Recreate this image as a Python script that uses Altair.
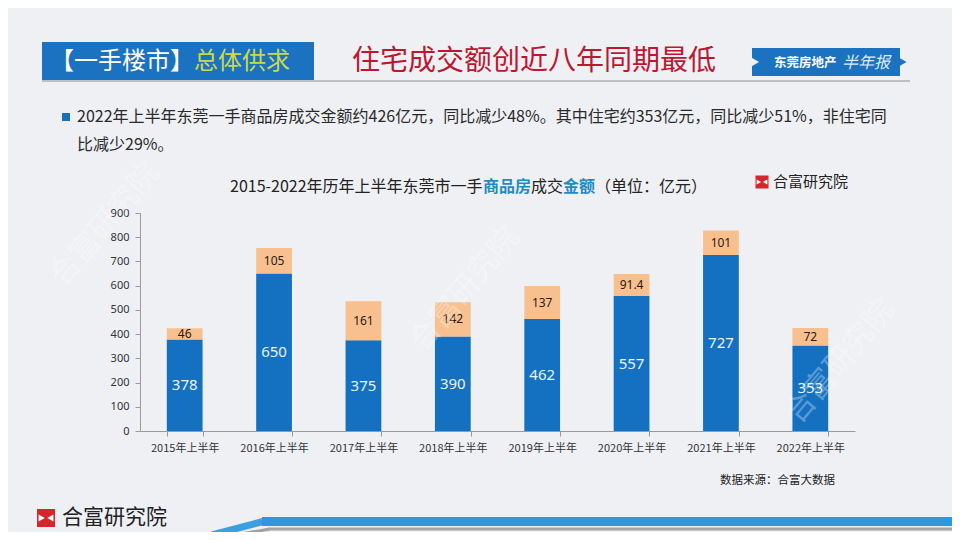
import altair as alt
import pandas as pd

# ---------------- data ----------------
periods = ["2015年上半年", "2016年上半年", "2017年上半年", "2018年上半年",
           "2019年上半年", "2020年上半年", "2021年上半年", "2022年上半年"]
residential = [378, 650, 375, 390, 462, 557, 727, 353]
non_residential = [46, 105, 161, 142, 137, 91.4, 101, 72]
y_ticks = [0, 100, 200, 300, 400, 500, 600, 700, 800, 900]

header_left = "【一手楼市】"
header_mid = "总体供求"
headline = "住宅成交额创近八年同期最低"
badge_a = "东莞房地产"
badge_b = "半年报"
bullet_1 = "2022年上半年东莞一手商品房成交金额约426亿元，同比减少48%。其中住宅约353亿元，同比减少51%，非住宅同"
bullet_2 = "比减少29%。"
title_parts = ["2015-2022年历年上半年东莞市一手", "商品房", "成交", "金额", "（单位：亿元）"]
brand = "合富研究院"
source = "数据来源：合富大数据"

# ---------------- layout helpers (page coords -> plot coords) ----------------
OX, OY = 140, 213          # plot origin on the page
PW, PH = 715, 218          # plot area size
def px(x):
    return x - OX
def py(y):
    return y - OY

FONT = "Noto Sans CJK SC"
BLUE = "#1470C0"
PEACH = "#F8C08E"
BG = "#EEF0F3"

rows = []
for p, r, n in zip(periods, residential, non_residential):
    rows.append({
        "period": p, "res": r, "non": n, "total": r + n,
        "res_mid": r / 2, "non_mid": r + n / 2,
        "res_lbl": f"{r:g}", "non_lbl": f"{n:g}",
    })
df = pd.DataFrame(rows)

one = alt.Data(values=[{"k": 1}])

x_axis = alt.Axis(labelAngle=0, labelFont=FONT, labelFontSize=11,
                  labelColor="#333333", domainColor="#9A9A9A",
                  tickColor="#9A9A9A", tickBand="extent", tickSize=5,
                  labelPadding=6, labelOverlap=False)
x_scale = alt.Scale(paddingInner=0.6, paddingOuter=0.3)
y_scale = alt.Scale(domain=[0, 900], nice=False)
y_axis = alt.Axis(values=y_ticks, grid=False, labelFont="Noto Sans",
                  labelFontSize=11, labelColor="#333333", domainColor="#9A9A9A",
                  tickColor="#9A9A9A", tickSize=5, labelPadding=6,
                  labelOverlap=False)


def X():
    return alt.X("period:N", sort=periods, title=None, scale=x_scale, axis=x_axis)


def Y(field):
    return alt.Y(field, scale=y_scale, axis=y_axis, title=None)


base = alt.Chart(df)
bar_res = base.mark_bar(color=BLUE).encode(x=X(), y=Y("res:Q"))
bar_non = base.mark_bar(color=PEACH).encode(x=X(), y=Y("res:Q"), y2="total:Q")
lbl_res = base.mark_text(color="#EAF6FF", font="Noto Sans", fontSize=15).encode(
    x=X(), y=Y("res_mid:Q"), text="res_lbl:N")
lbl_non = base.mark_text(color="#2B1A10", font="Noto Sans", fontSize=12).encode(
    x=X(), y=Y("non_mid:Q"), text="non_lbl:N")


def txt(s, x, y, size, color, align="left", weight="normal", font=FONT,
        angle=0, opacity=1.0, baseline="middle", style="normal"):
    return alt.Chart(one).mark_text(
        text=s, align=align, baseline=baseline, fontSize=size, color=color,
        fontWeight=weight, font=font, angle=angle, opacity=opacity,
        fontStyle=style,
    ).encode(x=alt.value(px(x)), y=alt.value(py(y)))


def rect(x1, y1, x2, y2, color, opacity=1.0):
    return alt.Chart(one).mark_rect(color=color, opacity=opacity).encode(
        x=alt.value(px(x1)), x2=alt.value(px(x2)),
        y=alt.value(py(y1)), y2=alt.value(py(y2)))


def rule(x1, y1, x2, y2, color, width=1.0):
    return alt.Chart(one).mark_rule(color=color, strokeWidth=width).encode(
        x=alt.value(px(x1)), x2=alt.value(px(x2)),
        y=alt.value(py(y1)), y2=alt.value(py(y2)))


def pt(x, y, shape, size, color):
    return alt.Chart(one).mark_point(shape=shape, size=size, filled=True,
                                     color=color, opacity=1).encode(
        x=alt.value(px(x)), y=alt.value(py(y)))


def logo(x, y, s):
    # red square with white side triangles (hourglass emblem)
    h = s / 2
    return [
        rect(x - h, y - h, x + h, y + h, "#D7262B"),
        pt(x - h + s * 0.26, y, "triangle-right", s * s * 0.16, "#FFFFFF"),
        pt(x + h - s * 0.26, y, "triangle-left", s * s * 0.16, "#FFFFFF"),
    ]


deco = []
# watermarks
for (wx, wy) in [(105, 225), (465, 290), (840, 362)]:
    deco.append(txt(brand, wx, wy, 30, "#FFFFFF", align="center", angle=310,
                    opacity=0.3))
# header
deco.append(rect(42, 42, 314, 80, "#1A72C1"))
deco.append(txt(header_left, 50, 62, 24, "#FFFFFF"))
deco.append(txt(header_mid, 194, 62, 24, "#CBD84E"))
deco.append(rule(42, 81, 910, 81, "#8E8E8E", 1.2))
deco.append(txt(headline, 534, 62, 28, "#BE1630", align="center"))
# badge
deco.append(rect(752, 48, 900, 76, "#1A72C1"))
deco.append(pt(900, 62, "triangle-right", 230, "#1A72C1"))
deco.append(pt(755, 62, "triangle-right", 90, BG))
deco.append(txt(badge_a, 774, 63, 12.5, "#FFFFFF", weight="bold"))
deco.append(txt(badge_b, 842, 63, 16, "#DDEBF7", style="italic"))
# bullet
deco.append(rect(62, 113, 70, 121, "#1A6FBF"))
deco.append(txt(bullet_1, 77, 117, 16, "#2A2A2A"))
deco.append(txt(bullet_2, 77, 145, 16, "#2A2A2A"))
# chart title (rich text)
title_x = [230, 483, 531, 563, 595]
title_c = ["#222222", "#1E8BC3", "#222222", "#1E8BC3", "#222222"]
title_w = ["normal", "bold", "normal", "bold", "normal"]
for s, xx, cc, ww in zip(title_parts, title_x, title_c, title_w):
    deco.append(txt(s, xx, 187, 16, cc, weight=ww))
# top-right brand
deco += logo(762, 182, 13)
deco.append(txt(brand, 773, 182, 15, "#222222"))
# source
deco.append(txt(source, 835, 481, 11.5, "#222222", align="right"))
# footer
deco += logo(46, 518, 18)
deco.append(txt(brand, 62, 518, 21, "#222222"))
deco.append(rule(30, 536, 215, 536, "#8A8A8A", 1.5))
deco.append(rule(212, 535, 265, 521, "#3AA0E0", 7))
deco.append(rule(222, 537, 270, 529, "#A0A0A0", 3))
deco.append(rect(262, 517, 960, 526, "#2E97DE"))
deco.append(rule(268, 529, 960, 529, "#A5A5A5", 3))

chart = alt.layer(bar_res, bar_non, lbl_res, lbl_non, *deco).properties(
    width=PW, height=PH,
    autosize=alt.AutoSizeParams(type="none"),
    padding={"left": OX - 8, "top": OY - 8,
             "right": 944 - (OX - 8) - PW, "bottom": 524 - (OY - 8) - PH},
    background=BG,
).configure_view(stroke=None)

chart.save("out.html", embed_options={"renderer": "svg", "actions": False})
